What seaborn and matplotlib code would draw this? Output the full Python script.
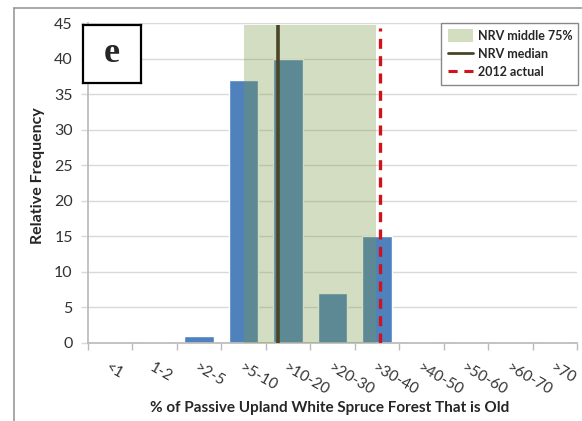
import numpy as np
import pandas as pd
import matplotlib
matplotlib.use("Agg")
import matplotlib.pyplot as plt
from matplotlib.patches import Patch
from matplotlib.lines import Line2D
import seaborn as sns

# Data
categories = ["<1", "1-2", ">2-5", ">5-10", ">10-20", ">20-30", ">30-40",
              ">40-50", ">50-60", ">60-70", ">70"]
rel_freq = [0, 0, 1, 37, 40, 7, 15, 0, 0, 0, 0]
# NRV stats in category-axis units (0 = "<1")
nrv_low, nrv_high = 3.0, 5.97
nrv_median = 3.77
actual_2012 = 6.07
nrv_top = 44.75

sns.set_theme(style="white")
plt.rcParams["font.family"] = ["Lato", "DejaVu Sans"]

df = pd.DataFrame({"cat": categories, "freq": rel_freq})

W, H = 582, 421
fig = plt.figure(figsize=(W / 100, H / 100), dpi=100)
ax = fig.add_axes([88 / W, 1 - 342.7 / H, (577 - 88) / W, (342.7 - 23.3) / H])

sns.barplot(data=df, x="cat", y="freq", color="#4F81BD", saturation=1,
            width=0.67, ax=ax, zorder=2)

ax.axvspan(nrv_low, nrv_high, ymin=0, ymax=nrv_top / 45, color="#7A9A45",
           alpha=0.33, lw=0, zorder=3)
ax.plot([nrv_median, nrv_median], [0, nrv_top], color="#4A4526", lw=2.6,
        zorder=4, solid_capstyle="butt")
ax.plot([actual_2012, actual_2012], [0, 44.3], color="#D0121B", lw=2.4,
        ls=(0, (3, 2.2)), zorder=4)

ax.set_xlim(-0.5, len(categories) - 0.5)
ax.set_ylim(0, 45)
ax.set_yticks(np.arange(0, 46, 5))
ax.yaxis.grid(True, color="#D9D9D9", lw=1, zorder=0)
ax.set_axisbelow(True)

ax.set_xticks(np.arange(len(categories)))
ax.set_xticklabels(categories, rotation=-30, ha="left", va="top",
                   rotation_mode="anchor", fontsize=11, color="#333333")
ax.set_xticks(np.arange(-0.5, len(categories)), minor=True)
ax.tick_params(axis="x", which="major", length=0, pad=13)
ax.tick_params(axis="x", which="minor", length=5, color="#BBBBBB", width=1,
               direction="out", bottom=True)
ax.tick_params(axis="y", length=5, color="#D9D9D9", width=1, pad=6,
               labelsize=11.5, labelcolor="#333333", left=True)

for s in ["top", "right"]:
    ax.spines[s].set_visible(False)
ax.spines["left"].set_color("#BBBBBB")
ax.spines["bottom"].set_color("#BBBBBB")

ax.set_xlabel("")
ax.set_ylabel("")
fig.text(38 / W, 1 - 176 / H, "Relative Frequency", rotation=90, ha="center",
         va="center", fontsize=11.5, fontweight="bold")
fig.text(330 / W, 1 - 408 / H, "% of Passive Upland White Spruce Forest That is Old",
         ha="center", va="center", fontsize=11, fontweight="bold")

handles = [Patch(facecolor="#D3DDC0", edgecolor="none"),
           Line2D([], [], color="#4A4526", lw=2),
           Line2D([], [], color="#D0121B", lw=2.2, ls=(0, (3, 2.2)))]
leg = ax.legend(handles, ["NRV middle 75%", "NRV median", "2012 actual"],
                loc="upper right", bbox_to_anchor=(1.003, 1.002),
                borderaxespad=0, fancybox=False, framealpha=1,
                edgecolor="#888888", prop={"weight": "bold", "size": 9},
                handlelength=2.0, handleheight=1.2, handletextpad=0.4,
                borderpad=0.5, labelspacing=0.45)
leg.get_frame().set_linewidth(1)

# panel letter box
pax = fig.add_axes([83 / W, 1 - 83 / H, 58 / W, 58 / H])
pax.set_xticks([])
pax.set_yticks([])
pax.set_facecolor("white")
for s in pax.spines.values():
    s.set_color("black")
    s.set_linewidth(1.6)
pax.text(0.5, 0.5, "e", ha="center", va="center", fontsize=26,
         fontweight="bold", family="Liberation Serif", transform=pax.transAxes)

# outer frame
fig.add_artist(Line2D([14 / W, 14 / W], [0, 1 - 8 / H], color="#999999",
                      lw=1.2, transform=fig.transFigure))
fig.add_artist(Line2D([14 / W, 1], [1 - 8 / H, 1 - 8 / H], color="#999999",
                      lw=1.2, transform=fig.transFigure))

fig.savefig("out.png", dpi=100)
